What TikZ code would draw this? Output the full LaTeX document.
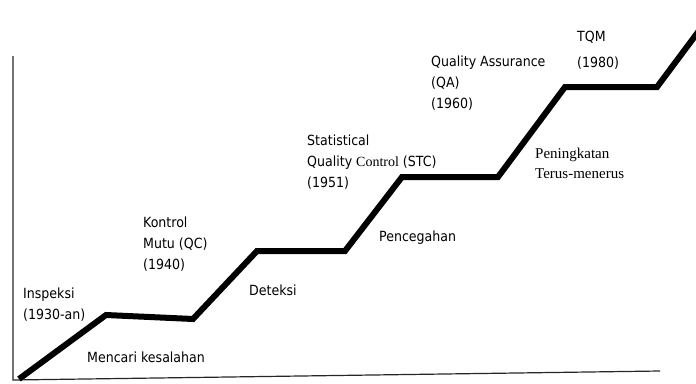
\documentclass[tikz,border=0pt]{standalone}
\usepackage{fontspec}
\setmainfont{DejaVu Sans Condensed}
\newfontfamily\serifface{Liberation Serif}
\usetikzlibrary{positioning}

\begin{document}
\begin{tikzpicture}[
    x=1pt, y=-1pt,
    stair/.style={line width=6pt, line join=miter},
    axis/.style={line width=1.2pt, black!85},
    lbl/.style={anchor=north west, inner sep=0pt, align=left,
                font=\fontsize{14}{21}\selectfont},
    slbl/.style={lbl, font=\serifface\fontsize{15}{20}\selectfont}
]
\useasboundingbox (0,0) rectangle (696,383);

% axes
\coordinate (ytop) at (13,56);
\coordinate (orig) at (13,380);
\coordinate (xend) at (660,371);
\draw[axis] (ytop) -- (orig) -- (xend);

% the stairs
\coordinate (s0) at (19,379);
\coordinate (s1) at (106,315);
\coordinate (s2) at (193,319);
\coordinate (s3) at (257,251);
\coordinate (s4) at (345,251);
\coordinate (s5) at (402,177);
\coordinate (s6) at (498,177);
\coordinate (s7) at (565,87);
\coordinate (s8) at (657,87);
\coordinate (s9) at (704,24);
\draw[stair] (s0) -- (s1) -- (s2) -- (s3) -- (s4) -- (s5) -- (s6) -- (s7) -- (s8) -- (s9);

% labels
\node[lbl] (inspeksi) at (23,288) {Inspeksi\\(1930-an)};
\node[lbl] (mencari) at (87,352) {Mencari kesalahan};
\node[lbl] (qc) at (143,217) {Kontrol\\Mutu (QC)\\(1940)};
\node[lbl] (deteksi) at (249,285) {Deteksi};
\node[lbl] (stc) at (307,135) {Statistical\\Quality {\serifface Control} (STC)\\(1951)};
\node[lbl] (cegah) at (379,231) {Pencegahan};
\node[lbl] (qa) at (431,56) {Quality Assurance\\(QA)\\(1960)};
\node[lbl, font=\fontsize{14}{26}\selectfont] (tqm) at (577,31) {TQM\\(1980)};
\node[slbl] (terus) at (535,148) {Peningkatan\\Terus-menerus};
\end{tikzpicture}
\end{document}
